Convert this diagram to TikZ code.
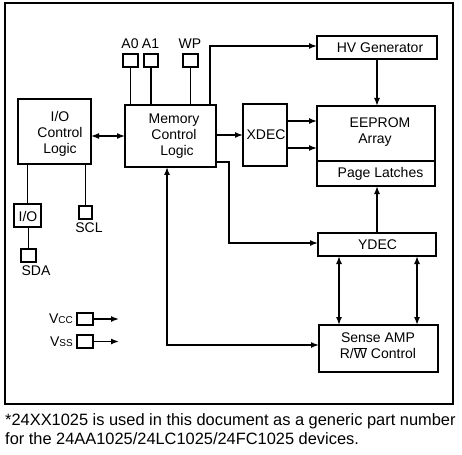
\documentclass[tikz,border=0pt]{standalone}
\usepackage{fontspec}
\setmainfont{Liberation Sans}
\usetikzlibrary{arrows.meta}
\begin{document}
\begin{tikzpicture}[x=1pt,y=-1pt,
  box/.style={draw, line width=1.8pt, inner sep=0pt, outer sep=0pt},
  pinbox/.style={draw, line width=1.5pt, inner sep=0pt, outer sep=0pt},
  txt/.style={font=\fontsize{14}{16}\selectfont, align=center, inner sep=0pt},
  conn/.style={line width=1.5pt},
  arr/.style={conn, -{Latex[length=8pt,width=6pt]}},
  darr/.style={conn, {Latex[length=8pt,width=6pt]}-{Latex[length=8pt,width=6pt]}},
  foot/.style={font=\fontsize{16.4}{19}\selectfont, inner sep=0pt, anchor=base west}]
\useasboundingbox (0,0) rectangle (462,454);
% outer frame
\node[box, line width=2.2pt, minimum width=448pt, minimum height=401pt] (frame) at (229,203.5) {};
% main blocks
\node[box, minimum width=73pt, minimum height=65pt] (io) at (54.5,131.5) {};
\node[txt] (iotxt) at (60,134) {I/O\\Control\\Logic};
\node[box, minimum width=91pt, minimum height=62pt] (mem) at (170.5,136) {};
\node[txt] (memtxt) at (174,136) {Memory\\Control\\\hspace*{6pt}Logic};
\node[box, minimum width=44pt, minimum height=62pt] (xdec) at (265,135) {};
\node[txt] (xdectxt) at (266,135) {XDEC};
\node[box, minimum width=120pt, minimum height=23pt] (hv) at (377,47.5) {};
\node[txt] (hvtxt) at (380,47.5) {HV Generator};
\node[box, minimum width=118pt, minimum height=55pt] (ee) at (376,133.5) {};
\node[txt] (eetxt) at (380,132) {EEPROM\\Array\hspace*{10pt}};
\node[box, minimum width=118pt, minimum height=25pt] (pl) at (376,173.5) {};
\node[txt] (pltxt) at (380.5,173.5) {Page Latches};
\node[box, minimum width=118pt, minimum height=23pt] (ydec) at (377,244.5) {};
\node[txt] (ydectxt) at (377.5,245) {YDEC};
\node[box, minimum width=119pt, minimum height=47pt] (sense) at (378.5,348.5) {};
\node[txt] (sensetxt) at (378,346) {Sense AMP\\R/$\overline{\hbox{W}}$ Control};
% address pins
\node[pinbox, minimum width=15pt, minimum height=13pt] (a0) at (130.5,60.5) {};
\node[pinbox, minimum width=14pt, minimum height=13pt] (a1) at (151,60.5) {};
\node[pinbox, minimum width=15pt, minimum height=13pt] (wp) at (190.5,60.5) {};
\node[txt] (a0lab) at (130,44) {A0};
\node[txt] (a1lab) at (150.5,44) {A1};
\node[txt] (wplab) at (190,44) {WP};
\draw[conn] (a0.south) -- (a0.south |- mem.north);
\draw[conn] (a1.south) -- (a1.south |- mem.north);
\draw[conn] (wp.south) -- (wp.south |- mem.north);
% serial pins
\node[pinbox, minimum width=27pt, minimum height=23pt] (iobox) at (27.5,215.5) {};
\node[txt] (ioboxtxt) at (28,216) {I/O};
\node[pinbox, minimum width=15pt, minimum height=13pt] (sda) at (28.5,255.5) {};
\node[txt] (sdalab) at (36,271) {SDA};
\node[pinbox, minimum width=13pt, minimum height=13pt] (scl) at (85.5,212.5) {};
\node[txt] (scllab) at (89,228) {SCL};
\draw[conn] (iobox.north |- io.south) -- (iobox.north);
\draw[conn] (sda.north |- iobox.south) -- (sda.north);
\draw[conn] (scl.north |- io.south) -- (scl.north);
% supply pins
\node[pinbox, minimum width=16pt, minimum height=12pt] (vcc) at (85,319) {};
\node[txt, anchor=east] (vcclab) at (73,319) {V{\fontsize{10}{10}\selectfont CC}};
\coordinate (vccend) at (119,319);
\draw[arr] (vcc.east) -- (vccend);
\node[pinbox, minimum width=16pt, minimum height=13pt] (vss) at (85,341.5) {};
\node[txt, anchor=east] (vsslab) at (73,342) {V{\fontsize{10}{10}\selectfont SS}};
\coordinate (vssend) at (119,341.5);
\draw[arr] (vss.east) -- (vssend);
% helper coordinates
\coordinate (eein1) at ([yshift=12.5pt]ee.west);
\coordinate (eein2) at ([yshift=-14.5pt]ee.west);
\coordinate (memtop) at ([xshift=-6pt]mem.north east);
\coordinate (hvin) at ([yshift=1.5pt]hv.west);
\coordinate (memout) at ([yshift=-26pt]mem.east);
\coordinate (ydecin) at ([yshift=1.5pt]ydec.west);
\coordinate (ydecl) at ([xshift=-38pt]ydec.south);
\coordinate (ydecr) at ([xshift=40pt]ydec.south);
\coordinate (membot) at ([xshift=-3.5pt]mem.south);
\coordinate (sensein) at ([yshift=3.5pt]sense.west);
% connectors
\draw[darr] (io.east |- mem.west) -- (mem.west);
\draw[arr] (mem.east |- xdec.west) -- (xdec.west);
\draw[arr] (xdec.east |- eein1) -- (eein1);
\draw[arr] (xdec.east |- eein2) -- (eein2);
\draw[arr] (memtop) |- (hvin);
\draw[arr] (hv.south) -- (hv.south |- ee.north);
\draw[arr] (memout) -- ++(13,0) |- (ydecin);
\draw[arr] (ydec.north) -- (ydec.north |- pl.south);
\draw[darr] (ydecl) -- (ydecl |- sense.north);
\draw[darr] (ydecr) -- (ydecr |- sense.north);
\draw[darr] (membot) |- (sensein);
% footnote
\node[foot] (foot1) at (5,425.5) {*24XX1025 is used in this document as a generic part number};
\node[foot] (foot2) at (5,444.5) {for the 24AA1025/24LC1025/24FC1025 devices.};
\end{tikzpicture}
\end{document}
